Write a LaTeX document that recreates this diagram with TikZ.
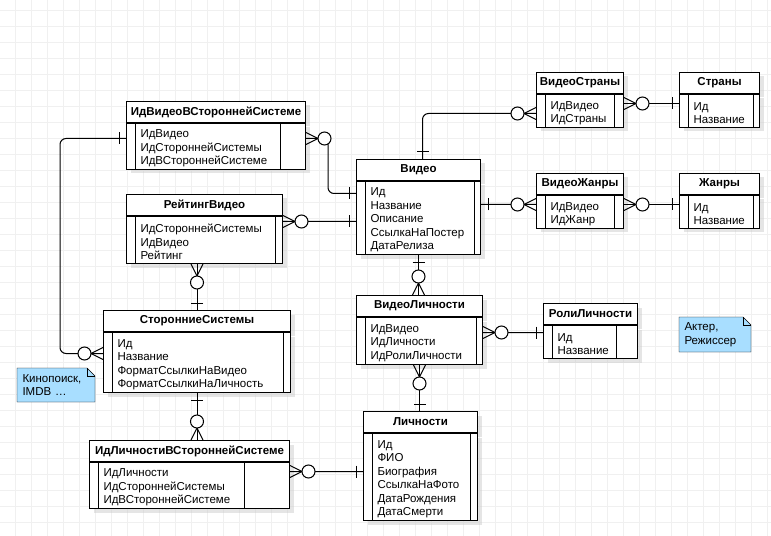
\documentclass[tikz,border=0pt]{standalone}
\usepackage{fontspec}
\setmainfont{Liberation Sans}
\usepackage{tikz}
\usetikzlibrary{positioning,calc,backgrounds,shadows,decorations.markings}
\definecolor{noteblue}{HTML}{A8DEFF}
\definecolor{gridgray}{HTML}{F0F0F0}
\newcommand{\erfont}{\fontsize{11.5bp}{13.5bp}\selectfont}

\begin{document}
\begin{tikzpicture}[x=1bp, y=-1bp, line width=1bp, font=\erfont,
    eshadow/.style={drop shadow={shadow xshift=4bp, shadow yshift=-4bp, fill=black!20, opacity=0.5}},
    ehead/.style={draw, fill=white, eshadow, anchor=north west, minimum height=21bp, inner sep=0pt, font=\erfont\bfseries},
    ebody/.style={draw, fill=white, eshadow, anchor=north west, inner sep=0pt},
    erows/.style={anchor=west, align=left, inner sep=0pt, yshift=-2bp},
    notebox/.style={anchor=north west, align=left, inner xsep=5bp, inner ysep=0pt},
    notebg/.style={draw, fill=noteblue},
    erline/.style={rounded corners=6bp, postaction={decorate, decoration={markings,
        mark=at position 0 with {\draw[sharp corners] (0,-6) -- (12,0) -- (0,6); \draw[fill=white] (18.5,0) circle (6.5);},
        mark=at position -7bp with {\draw (0,-6) -- (0,6);}}}},
]
\useasboundingbox (0,0) rectangle (771,536);
\begin{scope}[on background layer]
  \fill[white] (0,0) rectangle (771,536);
  \foreach \gx in {15,31,...,767} \draw[gridgray] (\gx,0) -- (\gx,536);
  \foreach \gy in {10,26,...,522} \draw[gridgray] (0,\gy) -- (771,\gy);
\end{scope}

% tables
\node[ehead, minimum width=179bp] (vidext) at (126,101) {ИдВидеоВСтороннейСистеме};
\node[ebody, minimum width=179bp, minimum height=46bp] (vidext-b) at (vidext.south west) {};
\node[erows] (vidext-r) at ([xshift=14bp]vidext-b.west) {ИдВидео\\ИдСтороннейСистемы\\ИдВСтороннейСистеме};

\node[ehead, minimum width=156bp] (rating) at (126,194) {РейтингВидео};
\node[ebody, minimum width=156bp, minimum height=47bp] (rating-b) at (rating.south west) {};
\node[erows] (rating-r) at ([xshift=14bp]rating-b.west) {ИдСтороннейСистемы\\ИдВидео\\Рейтинг};

\node[ehead, minimum width=187bp] (ext) at (103,310) {СторонниеСистемы};
\node[ebody, minimum width=187bp, minimum height=60bp] (ext-b) at (ext.south west) {};
\node[erows] (ext-r) at ([xshift=14bp]ext-b.west) {Ид\\Название\\ФорматСсылкиНаВидео\\ФорматСсылкиНаЛичность};

\node[ehead, minimum width=200bp] (pext) at (89,440) {ИдЛичностиВСтороннейСистеме};
\node[ebody, minimum width=200bp, minimum height=46bp] (pext-b) at (pext.south west) {};
\node[erows] (pext-r) at ([xshift=14bp]pext-b.west) {ИдЛичности\\ИдСтороннейСистемы\\ИдВСтороннейСистеме};

\node[ehead, minimum width=124bp] (video) at (356,159) {Видео};
\node[ebody, minimum width=124bp, minimum height=73bp] (video-b) at (video.south west) {};
\node[erows] (video-r) at ([xshift=14bp]video-b.west) {Ид\\Название\\Описание\\СсылкаНаПостер\\ДатаРелиза};

\node[ehead, minimum width=126bp] (vperson) at (356,295) {ВидеоЛичности};
\node[ebody, minimum width=126bp, minimum height=47bp] (vperson-b) at (vperson.south west) {};
\node[erows] (vperson-r) at ([xshift=14bp]vperson-b.west) {ИдВидео\\ИдЛичности\\ИдРолиЛичности};

\node[ehead, minimum width=114bp] (person) at (363,411) {Личности};
\node[ebody, minimum width=114bp, minimum height=87bp] (person-b) at (person.south west) {};
\node[erows] (person-r) at ([xshift=14bp]person-b.west) {Ид\\ФИО\\Биография\\СсылкаНаФото\\ДатаРождения\\ДатаСмерти};

\node[ehead, minimum width=94bp] (role) at (543,303) {РолиЛичности};
\node[ebody, minimum width=94bp, minimum height=33bp] (role-b) at (role.south west) {};
\node[erows] (role-r) at ([xshift=14bp]role-b.west) {Ид\\Название};

\node[ehead, minimum width=87bp] (vcountry) at (536,72) {ВидеоСтраны};
\node[ebody, minimum width=87bp, minimum height=33bp] (vcountry-b) at (vcountry.south west) {};
\node[erows] (vcountry-r) at ([xshift=14bp]vcountry-b.west) {ИдВидео\\ИдСтраны};

\node[ehead, minimum width=80bp] (country) at (679,72) {Страны};
\node[ebody, minimum width=80bp, minimum height=33bp] (country-b) at (country.south west) {};
\node[erows] (country-r) at ([xshift=14bp]country-b.west) {Ид\\Название};

\node[ehead, minimum width=87bp] (vgenre) at (536,173) {ВидеоЖанры};
\node[ebody, minimum width=87bp, minimum height=33bp] (vgenre-b) at (vgenre.south west) {};
\node[erows] (vgenre-r) at ([xshift=14bp]vgenre-b.west) {ИдВидео\\ИдЖанр};

\node[ehead, minimum width=80bp] (genre) at (679,173) {Жанры};
\node[ebody, minimum width=80bp, minimum height=33bp] (genre-b) at (genre.south west) {};
\node[erows] (genre-r) at ([xshift=14bp]genre-b.west) {Ид\\Название};

\foreach \n/\r in {vidext/26bp, rating/8bp, ext/8bp, pext/46bp, video/7bp, vperson/7bp, person/8bp,
                   role/22bp, vcountry/10bp, country/7bp, vgenre/10bp, genre/7bp} {
    \draw ([xshift=9bp]\n-b.north west) -- ([xshift=9bp]\n-b.south west);
    \draw ([xshift=-\r]\n-b.north east) -- ([xshift=-\r]\n-b.south east);
}

% notes
\node[notebox, text width=67bp, minimum height=33bp] (kinonote) at (17,368) {Кинопоиск,\\IMDB …};
\node[notebox, text width=61bp, minimum height=34bp] (rolenote) at (679,317) {Актер,\\Режиссер};
\begin{scope}[on background layer]
\foreach \n in {kinonote, rolenote} {
    \draw[notebg] (\n.south west) -- (\n.north west) -- ([xshift=-8bp]\n.north east)
        -- ([yshift=-8bp]\n.north east) -- (\n.south east) -- cycle;
    \draw ([xshift=-8bp]\n.north east) |- ([yshift=-8bp]\n.north east);
}
\end{scope}

% relations: many side first, one side last
\draw[erline] ([yshift=8bp]vidext-b.east) -- ++(22,0) |- ([yshift=24.5bp]video-b.west);
\draw[erline] ([yshift=9bp]ext-b.west) -- ++(-43,0) |- ([yshift=8bp]vidext-b.west);
\draw[erline] ([yshift=18.5bp]rating-b.east) -- ([yshift=-3.5bp]video-b.west);
\draw[erline] (rating-b.south -| ext.north) -- (ext.north);
\draw[erline] (pext.north -| ext-b.south) -- (ext-b.south);
\draw[erline] ([yshift=14bp]pext-b.east) -- ([yshift=5.5bp]person-b.west);
\draw[erline] ([yshift=-2.5bp]vcountry-b.west) -| ([xshift=4bp]video.north);
\draw[erline] ([yshift=7.5bp]vcountry-b.east) -- ([yshift=7.5bp]country-b.west);
\draw[erline] ([yshift=7.5bp]vgenre-b.west) -- ([yshift=13.5bp]video-b.east);
\draw[erline] ([yshift=7.5bp]vgenre-b.east) -- ([yshift=7.5bp]genre-b.west);
\draw[erline] (vperson.north -| video-b.south) -- (video-b.south);
\draw[erline] ([yshift=8.5bp]vperson-b.east) -- ([yshift=9.5bp]role-b.west);
\draw[erline] (vperson-b.south) -- (vperson-b.south |- person.north);
\end{tikzpicture}
\end{document}
